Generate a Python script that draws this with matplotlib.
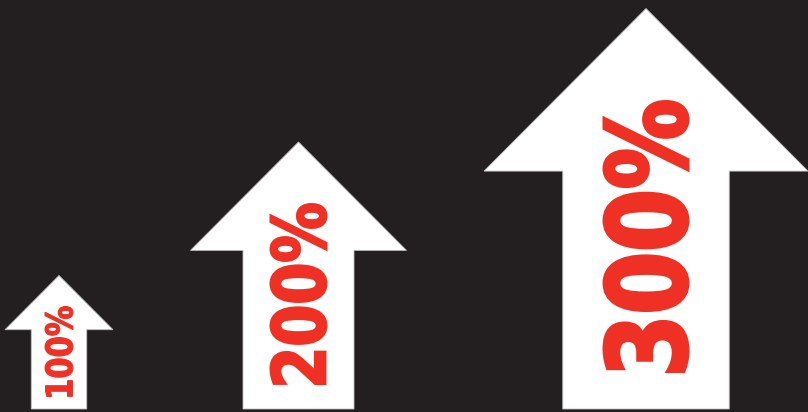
import matplotlib
matplotlib.use("Agg")
import matplotlib.pyplot as plt
from matplotlib.patches import Polygon, PathPatch
from matplotlib.textpath import TextPath
from matplotlib.font_manager import FontProperties
import matplotlib.transforms as mtrans

# data
labels = ["100%", "200%", "300%"]
values = [100, 200, 300]

# layout (pixels)
centers_x = [59, 298.5, 646]
base_y = 3
H_PER = 1.335      # tip height per unit value
HB_PER = 0.793     # head base height per unit
HW_PER = 1.08      # head width per unit
SW_PER = 0.555     # shaft width per unit
TL_PER = 0.91      # text length per unit
TH_PER = 0.29      # text cap height per unit
TY_PER = 0.575     # text center height per unit
ST_PER = 0.012     # extra stroke (px) per unit

BG = "#231f20"
RED = "#ee3124"

fig = plt.figure(figsize=(8.08, 4.12), dpi=100, facecolor=BG)
ax = fig.add_axes([0, 0, 1, 1])
ax.set_facecolor(BG)
ax.set_xlim(0, 808)
ax.set_ylim(0, 412)
ax.axis("off")

fp = FontProperties(family="DejaVu Sans", weight="bold")

for cx, v, lab in zip(centers_x, values, labels):
    H = H_PER * v
    hb = HB_PER * v
    hw = HW_PER * v / 2
    sw = SW_PER * v / 2
    verts = [
        (cx - sw, base_y), (cx - sw, base_y + hb), (cx - hw, base_y + hb),
        (cx, base_y + H), (cx + hw, base_y + hb), (cx + sw, base_y + hb),
        (cx + sw, base_y),
    ]
    ax.add_patch(Polygon(verts, closed=True, facecolor="white",
                         edgecolor="#bdbdbd", linewidth=0.6, zorder=2))

    tp = TextPath((0, 0), lab, size=1, prop=fp)
    bb = tp.get_extents()
    st = ST_PER * v
    L = TL_PER * v - st
    h = TH_PER * v - st
    cy = base_y + TY_PER * v
    tr = (mtrans.Affine2D()
          .translate(-bb.x0, -bb.y0)
          .scale(L / bb.width, h / bb.height)
          .rotate_deg(90)
          .translate(cx + h / 2, cy - L / 2))
    path = tr.transform_path(tp)
    ax.add_patch(PathPatch(path, facecolor=RED, edgecolor=RED,
                           linewidth=st * 0.72, joinstyle="miter", zorder=3))

fig.savefig("out.png", dpi=100, facecolor=BG)
